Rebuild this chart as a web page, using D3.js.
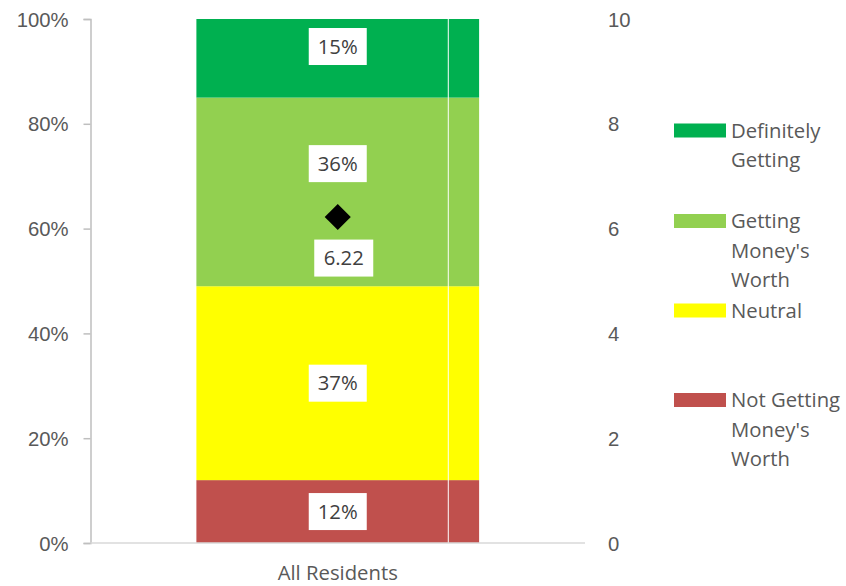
<!DOCTYPE html>
<html>
<head>
<meta charset="utf-8">
<script src="https://cdn.jsdelivr.net/npm/d3@7"></script>
<style>
  html, body { margin: 0; padding: 0; background: #fff; }
  svg { display: block; font-family: "Open Sans", sans-serif; }
</style>
</head>
<body>
<svg id="chart" width="846" height="586"></svg>
<script>
// Stacked shares (bottom to top) and the mean rating for all residents
const categories = ["All Residents"];
const seriesNames = ["Not Getting Money's Worth", "Neutral", "Getting Money's Worth", "Definitely Getting"];
const seriesValues = [0.12, 0.37, 0.36, 0.15];
const seriesColors = ["#C0504D", "#FFFF00", "#92D050", "#00B050"];
const meanScores = [6.22];
const leftTicks = [0, 0.2, 0.4, 0.6, 0.8, 1];
const rightTicks = [0, 2, 4, 6, 8, 10];
// Legend entries, top to bottom, with their wrapped lines
const legendLines = [
  ["Definitely", "Getting"],
  ["Getting", "Money's", "Worth"],
  ["Neutral"],
  ["Not Getting", "Money's", "Worth"]
];
const legendColors = ["#00B050", "#92D050", "#FFFF00", "#C0504D"];

const svg = d3.select("#chart");
const plotLeft = 90.5, plotRight = 585, plotTop = 19, plotBottom = 543;
const fontSize = "20.3px";

const x = d3.scaleBand().domain(categories).range([plotLeft, plotRight]).paddingInner(0.2725).paddingOuter(0.2725);
const y = d3.scaleLinear().domain([0, 1]).range([plotBottom, plotTop]);
const y2 = d3.scaleLinear().domain([0, 10]).range([plotBottom, plotTop]);

const axisColor = "#595959";

// Stacked bar segments
const stacked = [];
let acc = 0;
seriesValues.forEach((v, i) => { stacked.push({ y0: acc, y1: acc + v, v, color: seriesColors[i], i }); acc += v; });

const bx = x(categories[0]), bw = x.bandwidth();
svg.append("g").selectAll("rect").data(stacked).join("rect")
  .attr("x", bx).attr("width", bw)
  .attr("y", d => y(d.y1)).attr("height", d => y(d.y0) - y(d.y1))
  .attr("fill", d => d.color);

// thin white divider running through the bar
svg.append("line")
  .attr("x1", bx + bw * 0.891).attr("x2", bx + bw * 0.891)
  .attr("y1", y(acc)).attr("y2", y(0))
  .attr("stroke", "#fff").attr("stroke-width", 1);

// Left axis
const gL = svg.append("g").attr("transform", `translate(${plotLeft},0)`)
  .call(d3.axisLeft(y).tickValues(leftTicks).tickFormat(d3.format(".0%")).tickSize(7).tickPadding(15));
gL.select(".domain").attr("stroke", "#bfbfbf").attr("stroke-width", 1.5);
gL.selectAll(".tick line").attr("stroke", "#bfbfbf").attr("stroke-width", 1.5);
gL.selectAll("text").attr("fill", axisColor).style("font-size", fontSize).attr("dy", "0.35em");

// Right axis (labels only)
const gR = svg.append("g").attr("transform", `translate(${plotRight},0)`)
  .call(d3.axisRight(y2).tickValues(rightTicks).tickSize(0).tickPadding(23));
gR.select(".domain").remove();
gR.selectAll("text").attr("fill", axisColor).style("font-size", fontSize).attr("dy", "0.35em");

// Category axis
svg.append("line").attr("x1", plotLeft).attr("x2", plotRight).attr("y1", plotBottom).attr("y2", plotBottom)
  .attr("stroke", "#d9d9d9").attr("stroke-width", 1.5);
svg.append("g").selectAll("text").data(categories).join("text")
  .attr("x", d => x(d) + bw / 2).attr("y", 573).attr("dy", "0.35em")
  .attr("text-anchor", "middle").attr("fill", axisColor).style("font-size", fontSize)
  .text(d => d);

// Segment value labels in white boxes
const labelY = d => {
  const t = y(d.y1), b = y(d.y0);
  return d.i >= 2 ? t + (b - t) * 0.35 : (t + b) / 2;
};
const lbl = svg.append("g").selectAll("g").data(stacked).join("g")
  .attr("transform", d => `translate(${bx + bw / 2},${labelY(d)})`);
lbl.append("rect").attr("x", -29).attr("y", -18.5).attr("width", 58).attr("height", 37).attr("fill", "#fff");
lbl.append("text").attr("text-anchor", "middle").attr("dy", "0.35em")
  .attr("fill", "#404040").style("font-size", fontSize)
  .text(d => d3.format(".0%")(d.v));

// Mean score marker and its label
const cx = bx + bw / 2;
meanScores.forEach(m => {
  svg.append("path")
    .attr("d", d3.symbol(d3.symbolSquare, 340)())
    .attr("transform", `translate(${cx},${y2(m)}) rotate(45)`)
    .attr("fill", "#000");
  const g = svg.append("g").attr("transform", `translate(${cx + 6},${y2(m) + 41})`);
  g.append("rect").attr("x", -29.5).attr("y", -18.5).attr("width", 59).attr("height", 37).attr("fill", "#fff");
  g.append("text").attr("text-anchor", "middle").attr("dy", "0.35em")
    .attr("fill", "#404040").style("font-size", fontSize).text(d3.format(".2f")(m));
});

// Legend
const legendTop = [130.5, 221, 310.5, 400];
const lg = svg.append("g").selectAll("g").data(legendLines).join("g")
  .attr("transform", (d, i) => `translate(674,${legendTop[i]})`);
lg.append("rect").attr("x", 0).attr("y", -7).attr("width", 52).attr("height", 14)
  .attr("fill", (d, i) => legendColors[i]);
lg.each(function (lines) {
  d3.select(this).selectAll("text").data(lines).join("text")
    .attr("x", 57).attr("y", (d, j) => j * 29.5).attr("dy", "0.35em")
    .attr("fill", axisColor).style("font-size", fontSize).text(d => d);
});
</script>
</body>
</html>
